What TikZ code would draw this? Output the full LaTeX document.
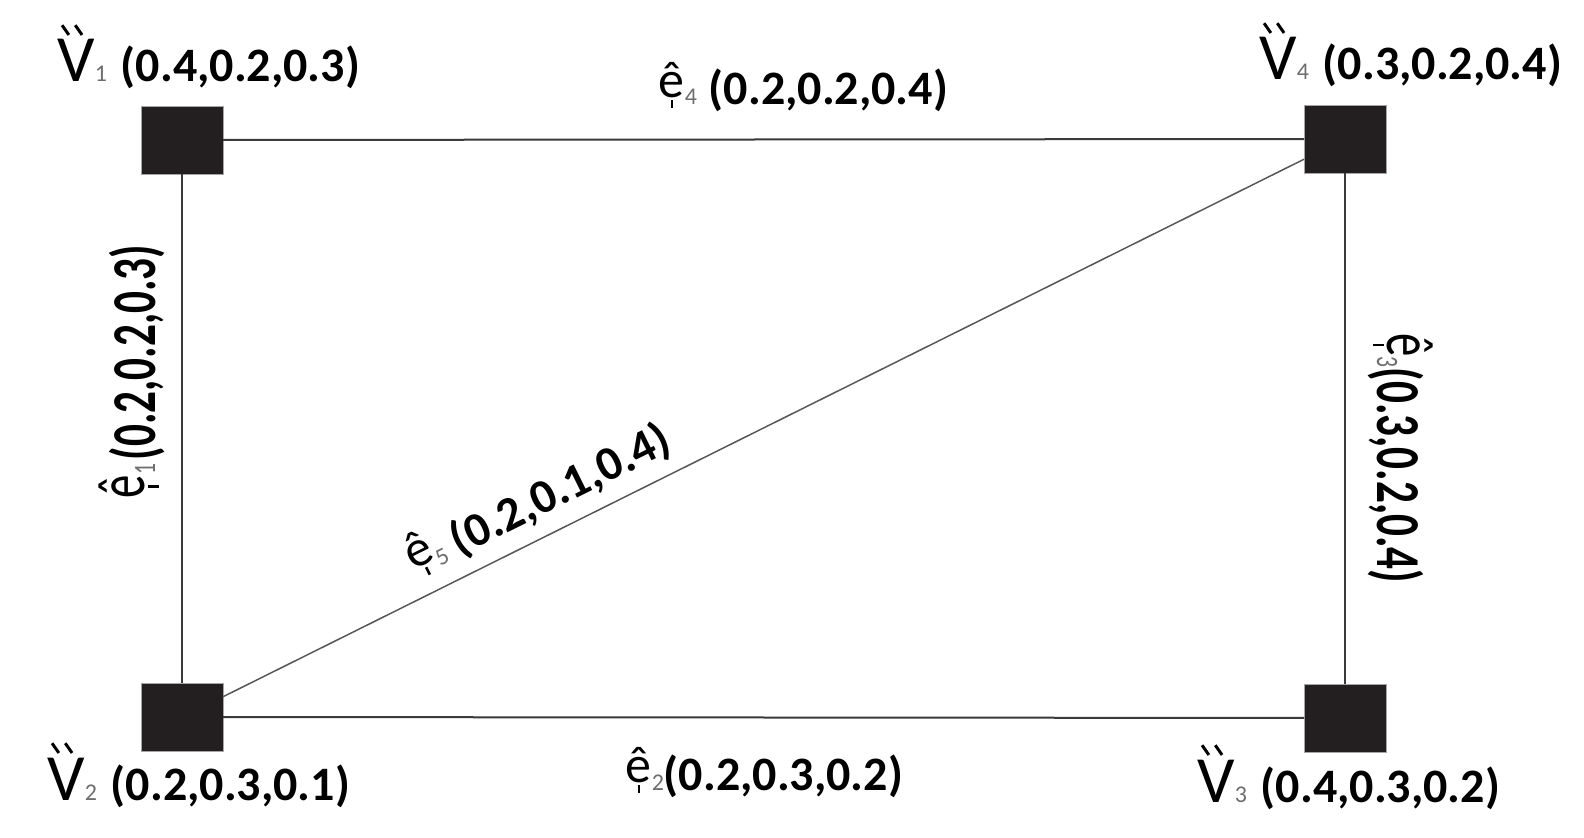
\documentclass[tikz,border=0pt]{standalone}
\usepackage{fontspec}
\setmainfont{Carlito}
\usepackage{graphicx}
\definecolor{boxc}{HTML}{231F20}
\definecolor{subc}{HTML}{6E6E6E}
\definecolor{edgec}{HTML}{3A3A3A}
\newcommand\myMark{\rotatebox{35}{\rule{0.045em}{0.18em}}}
\newcommand\myV{\ooalign{V\cr\hidewidth\raisebox{0.70em}{\myMark\kern0.06em\myMark}\kern0.12em\hidewidth\cr}}
\newcommand\myE{\ooalign{\raisebox{0.15em}{ê}\cr\hidewidth\rule[-0.06em]{0.05em}{0.16em}\hidewidth\cr}}
\newcommand\Vlab[2]{{\fontsize{33}{33}\selectfont\myV}{\fontsize{12}{12}\selectfont\color{subc}#1}\hspace{7pt}{\bfseries\fontsize{24}{24}\selectfont#2}}
\newcommand\Elab[3]{{\fontsize{26}{26}\selectfont\myE}{\fontsize{12}{12}\selectfont\color{subc}#1}\hspace{#3}{\bfseries\fontsize{24}{24}\selectfont#2}}
\begin{document}
\begin{tikzpicture}[x=0.5pt,y=-0.5pt,
  vbox/.style={rectangle,fill=boxc,draw=gray!70,line width=0.4pt,minimum width=41pt,minimum height=34pt,inner sep=0pt,outer sep=0pt},
  edge/.style={draw=edgec,line width=1pt},
  diag/.style={draw=edgec!85,line width=0.75pt},
  lab/.style={inner sep=0pt,outer sep=0pt}]
\useasboundingbox[fill=white] (0,0) rectangle (1584,838);
\node[vbox] (v1) at (182,140) {};
\node[vbox] (v4) at (1345,139) {};
\node[vbox] (v2) at (182,717) {};
\node[vbox] (v3) at (1345,718) {};
\draw[edge] (v1) -- (v4);
\draw[edge] (v1) -- (v2);
\draw[edge] (v2) -- (v3);
\draw[edge] (v4) -- (v3);
\draw[diag] (v2) -- (v4);
% vertex labels
\node[lab,anchor=base east] (l1) at (360,82) {\Vlab{1}{(0.4,0.2,0.3)}};
\node[lab,anchor=base east] (l4) at (1562,80) {\Vlab{4}{(0.3,0.2,0.4)}};
\node[lab,anchor=base east] (l2) at (350,800) {\Vlab{2}{(0.2,0.3,0.1)}};
\node[lab,anchor=base east] (l3) at (1500,802) {\Vlab{3}{(0.4,0.3,0.2)}};
% edge labels
\node[lab,anchor=base east] (e4) at (948,105) {\Elab{4}{(0.2,0.2,0.4)}{6pt}};
\node[lab,anchor=base east] (e2) at (903,790) {\Elab{2}{(0.2,0.3,0.2)}{0pt}};
\node[lab,anchor=base east,rotate=90] (e1) at (155,245) {\scalebox{0.9}[1.3]{\Elab{1}{(0.2,0.2,0.3)}{2pt}}};
\node[lab,anchor=base east,rotate=-90] (e3) at (1377,583) {\scalebox{0.9}[1.3]{\Elab{3}{(0.3,0.2,0.4)}{0pt}}};
\node[lab,anchor=base east,rotate=26.4] (e5) at (674,450) {\Elab{5}{(0.2,0.1,0.4)}{5pt}};
\end{tikzpicture}
\end{document}
